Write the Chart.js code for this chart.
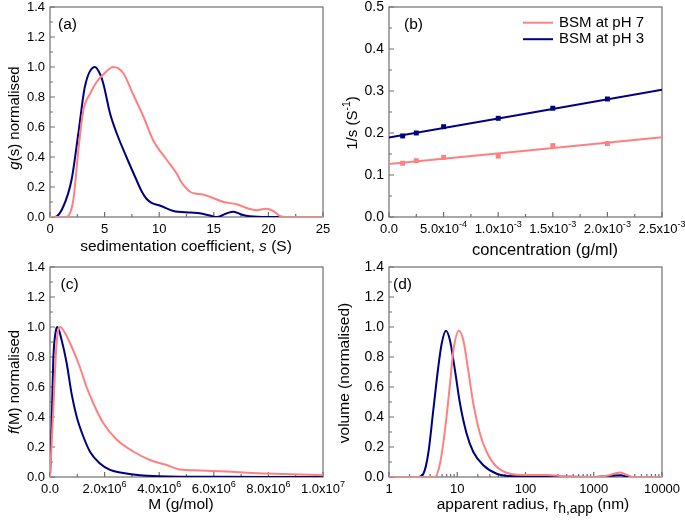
<!DOCTYPE html>
<html>
<head>
<meta charset="utf-8">
<script src="https://cdn.jsdelivr.net/npm/chart.js@4.4.0/dist/chart.umd.min.js"></script>
<style>
  html, body { margin: 0; padding: 0; background: #fff; }
  #wrap { position: relative; width: 685px; height: 521px; }
  #wrap canvas { position: absolute; left: 0; top: 0; }
</style>
</head>
<body>
<div id="wrap">
  <canvas id="chartA" width="685" height="521"></canvas>
  <canvas id="chartB" width="685" height="521"></canvas>
  <canvas id="chartC" width="685" height="521"></canvas>
  <canvas id="chartD" width="685" height="521"></canvas>
</div>
<script>
// ---------------------------------------------------------------
// data

// (a) g(s) distributions
const sA3 = [0, 0.46, 1.22, 1.98, 2.6, 3.2, 4.12, 4.6, 4.88, 5.5, 6.1, 7.0, 7.9, 8.4, 8.85, 9.3, 10.1, 11.3, 12.9, 13.7, 14.65, 15.3, 16.2, 16.8, 17.6, 18.3, 20, 25];
const gA3 = [0, 0, 0.07, 0.25, 0.56, 0.87, 1.0, 0.95, 0.89, 0.69, 0.56, 0.40, 0.25, 0.17, 0.12, 0.095, 0.075, 0.04, 0.03, 0.025, 0.01, 0.0, 0.025, 0.035, 0.015, 0.005, 0, 0];
const sA7 = [0, 1.37, 2.13, 2.6, 3.05, 3.66, 4.27, 4.88, 5.8, 6.7, 7.6, 8.55, 9.46, 10.7, 11.6, 12.0, 12.5, 12.9, 13.4, 14.0, 14.65, 15.9, 17.1, 18.0, 18.9, 19.8, 20.45, 21.1, 21.7, 25];
const gA7 = [0, 0, 0.11, 0.45, 0.71, 0.82, 0.9, 0.95, 1.0, 0.96, 0.82, 0.67, 0.51, 0.38, 0.29, 0.235, 0.19, 0.165, 0.155, 0.15, 0.135, 0.10, 0.085, 0.06, 0.045, 0.055, 0.04, 0.005, 0, 0];

// (b) 1/s vs concentration
const concB = [1.25e-4, 2.5e-4, 5e-4, 1e-3, 1.5e-3, 2e-3];
const invS3 = [0.193, 0.200, 0.215, 0.235, 0.259, 0.281];
const invS7 = [0.128, 0.134, 0.142, 0.145, 0.170, 0.175];
const fitX = [0, 2.5e-3];
const fit3 = [0.189, 0.303];
const fit7 = [0.126, 0.190];

// (c) f(M) distributions
const mC3 = [0, 0.06e6, 0.12e6, 0.22e6, 0.27e6, 0.43e6, 0.61e6, 0.79e6, 0.98e6, 1.22e6, 1.47e6, 1.83e6, 2.2e6, 2.68e6, 3.3e6, 4.0e6, 4.9e6, 6.0e6, 8.0e6, 10.0e6];
const fC3 = [0, 0.34, 0.78, 0.98, 1.0, 0.91, 0.76, 0.556, 0.40, 0.27, 0.167, 0.09, 0.047, 0.027, 0.012, 0.005, 0.002, 0.001, 0, 0];
const mC7 = [0, 0.12e6, 0.24e6, 0.37e6, 0.55e6, 0.79e6, 1.1e6, 1.34e6, 1.59e6, 1.95e6, 2.44e6, 3.05e6, 3.66e6, 4.27e6, 4.76e6, 5.5e6, 6.47e6, 7.45e6, 8.55e6, 10.0e6];
const fC7 = [0, 0.45, 0.89, 1.0, 0.96, 0.87, 0.73, 0.6, 0.49, 0.36, 0.25, 0.17, 0.113, 0.08, 0.05, 0.044, 0.037, 0.027, 0.02, 0.012];

// (d) volume vs apparent radius
const rD3 = [1, 2.7, 3.18, 3.77, 4.46, 5.28, 5.92, 6.84, 7.83, 9.27, 10.97, 13.7, 17.2, 24.1, 37.8, 66, 100, 300, 1000, 1800, 2500, 3200, 10000];
const vD3 = [0, 0, 0.02, 0.16, 0.447, 0.735, 0.89, 0.975, 0.91, 0.71, 0.49, 0.29, 0.167, 0.078, 0.022, 0.005, 0.004, 0.002, 0, 0.008, 0.012, 0, 0];
const rD7 = [1, 4.72, 5.59, 6.6, 7.83, 8.76, 10.6, 12.3, 14.5, 17.2, 21.5, 27, 37.8, 59.3, 104, 204, 400, 980, 1550, 2425, 3030, 3800, 10000];
const vD7 = [0, 0, 0.09, 0.31, 0.62, 0.84, 0.975, 0.91, 0.71, 0.49, 0.29, 0.167, 0.068, 0.022, 0.013, 0.013, 0.004, 0, 0.008, 0.03, 0.015, 0, 0];

const PINK = '#ff8080';
const NAVY = '#000080';
const FONT = '"Liberation Sans", Arial, sans-serif';

Chart.defaults.font.family = FONT;
Chart.defaults.color = '#000';

const pts = (xs, ys) => xs.map((x, i) => ({ x: x, y: ys[i] }));

// ---------------------------------------------------------------
// text helpers (italic / super / subscript pieces)

function partSize(p, size) {
  if (p[1] === 'sup') return size * 0.7;
  if (p[1] === 'sub') return size * 0.9;
  return size;
}
function setFont(ctx, p, size) {
  ctx.font = (p[1] === 'i' ? 'italic ' : '') + partSize(p, size) + 'px ' + FONT;
}
function richWidth(ctx, parts, size) {
  let w = 0;
  parts.forEach(p => { setFont(ctx, p, size); w += ctx.measureText(p[0]).width; });
  return w;
}
function drawRich(ctx, parts, x, y, size, rotate) {
  ctx.save();
  ctx.translate(x, y);
  if (rotate) ctx.rotate(-Math.PI / 2);
  ctx.textBaseline = 'middle';
  ctx.textAlign = 'left';
  ctx.fillStyle = '#000';
  let cx = -richWidth(ctx, parts, size) / 2;
  parts.forEach(p => {
    setFont(ctx, p, size);
    const dy = p[1] === 'sup' ? -size * 0.38 : (p[1] === 'sub' ? size * 0.25 : 0);
    ctx.fillText(p[0], cx, dy);
    cx += ctx.measureText(p[0]).width;
  });
  ctx.restore();
}
function sciParts(v) {
  if (Math.abs(v) < 1e-12) return [['0.0', '']];
  const e = Math.floor(Math.log10(v) + 1e-9);
  const m = v / Math.pow(10, e);
  return [[m.toFixed(1) + 'x10', ''], [String(e), 'sup']];
}

// ---------------------------------------------------------------
// frame, inward ticks, titles, legend

const panelPlugin = {
  id: 'panel',
  beforeDatasetsDraw(chart, args, o) {
    const ctx = chart.ctx, a = chart.chartArea;
    const xs = chart.scales.x, ys = chart.scales.y;
    ctx.save();
    ctx.strokeStyle = '#707070';
    ctx.lineWidth = 1.2;
    ctx.beginPath();
    const xTick = (v, len) => { const p = xs.getPixelForValue(v); ctx.moveTo(p, a.bottom); ctx.lineTo(p, a.bottom - len); };
    const yTick = (v, len) => { const p = ys.getPixelForValue(v); ctx.moveTo(a.left, p); ctx.lineTo(a.left + len, p); };

    if (o.logX) {
      const k0 = Math.round(Math.log10(xs.min)), k1 = Math.round(Math.log10(xs.max));
      for (let k = k0; k <= k1; k++) {
        xTick(Math.pow(10, k), 5);
        if (k < k1) for (let m = 2; m <= 9; m++) xTick(m * Math.pow(10, k), 3);
      }
    } else {
      for (let v = xs.min; v <= xs.max + o.minorX / 2; v += o.minorX) xTick(v, 3);
      xs.ticks.forEach(t => xTick(t.value, 5));
    }
    for (let v = ys.min; v <= ys.max + o.minorY / 2; v += o.minorY) yTick(v, 3);
    ys.ticks.forEach(t => yTick(t.value, 5));
    ctx.stroke();
    ctx.strokeRect(a.left, a.top, a.width, a.height);
    ctx.restore();
  },
  afterDraw(chart, args, o) {
    const ctx = chart.ctx, a = chart.chartArea, xs = chart.scales.x;
    if (o.sciX) {
      xs.ticks.forEach(t => {
        drawRich(ctx, sciParts(t.value), xs.getPixelForValue(t.value), a.bottom + 12.5, o.sciSize);
      });
    }
    drawRich(ctx, [[o.label, '']], o.labelPos[0], o.labelPos[1], 15.5);
    drawRich(ctx, o.xTitle.parts, o.xTitle.pos[0], o.xTitle.pos[1], o.xTitle.size);
    drawRich(ctx, o.yTitle.parts, o.yTitle.pos[0], o.yTitle.pos[1], o.yTitle.size, true);

    if (o.legend) {
      let row = 0;
      chart.data.datasets.forEach(ds => {
        if (!ds.inLegend) return;
        const y = o.legend.y + row * o.legend.gap;
        ctx.save();
        ctx.strokeStyle = ds.borderColor;
        ctx.lineWidth = 2;
        ctx.beginPath();
        ctx.moveTo(o.legend.x, y);
        ctx.lineTo(o.legend.x + 30, y);
        ctx.stroke();
        ctx.restore();
        ctx.save();
        ctx.font = '15px ' + FONT;
        ctx.fillStyle = '#000';
        ctx.textBaseline = 'middle';
        ctx.fillText(ds.label, o.legend.x + 36, y);
        ctx.restore();
        row++;
      });
    }
  }
};

// ---------------------------------------------------------------
// one panel = one chart, all canvases share the page coordinates

function curve(label, data, color) {
  return {
    label: label, data: data, showLine: true,
    borderColor: color, borderWidth: 2, pointRadius: 0,
    cubicInterpolationMode: 'monotone'
  };
}

function makePanel(id, area, xScale, yScale, datasets, panelOpts) {
  const fitW = s => { s.width = area.left; s.paddingTop = s.paddingBottom = 0; s.paddingLeft = s.paddingRight = 0; };
  const fitH = s => { s.height = 521 - area.bottom; s.paddingTop = s.paddingBottom = 0; s.paddingLeft = s.paddingRight = 0; };
  return new Chart(document.getElementById(id), {
    type: 'scatter',
    data: { datasets: datasets },
    options: {
      responsive: false,
      animation: false,
      events: [],
      layout: { padding: { left: 0, top: area.top, right: 685 - area.right, bottom: 0 } },
      plugins: { legend: { display: false }, tooltip: { enabled: false }, panel: panelOpts },
      scales: {
        x: Object.assign({ grid: { display: false, drawTicks: false }, border: { display: false }, afterFit: fitH }, xScale),
        y: Object.assign({ grid: { display: false, drawTicks: false }, border: { display: false }, afterFit: fitW }, yScale)
      }
    },
    plugins: [panelPlugin]
  });
}

const yNorm = size => ({
  min: 0, max: 1.4,
  ticks: { stepSize: 0.2, padding: 5, font: { size: size }, callback: v => v.toFixed(1) }
});

// (a)
makePanel('chartA', { left: 50, top: 7, right: 323, bottom: 217 },
  { type: 'linear', min: 0, max: 25, ticks: { stepSize: 5, padding: 5, font: { size: 13 } } },
  yNorm(13),
  [curve('BSM at pH 7', pts(sA7, gA7), PINK), curve('BSM at pH 3', pts(sA3, gA3), NAVY)],
  {
    label: '(a)', labelPos: [67.5, 25], minorX: 2.5, minorY: 0.1,
    xTitle: { parts: [['sedimentation coefficient, ', ''], ['s', 'i'], [' (S)', '']], pos: [186, 247], size: 15.5 },
    yTitle: { parts: [['g', 'i'], ['(s) normalised', '']], pos: [15, 118], size: 15 }
  });

// (b)
makePanel('chartB', { left: 389, top: 7, right: 662, bottom: 217 },
  { type: 'linear', min: 0, max: 0.0025, ticks: { stepSize: 0.0005, display: false } },
  { min: 0, max: 0.5, ticks: { stepSize: 0.1, padding: 5, font: { size: 14 }, callback: v => v.toFixed(1) } },
  [
    Object.assign(curve('BSM at pH 7', pts(fitX, fit7), PINK), { inLegend: true }),
    Object.assign(curve('BSM at pH 3', pts(fitX, fit3), NAVY), { inLegend: true }),
    { label: 'pH 7 data', data: pts(concB, invS7), pointStyle: 'rect', pointRadius: 3.5, backgroundColor: PINK, borderWidth: 0 },
    { label: 'pH 3 data', data: pts(concB, invS3), pointStyle: 'rect', pointRadius: 3.5, backgroundColor: NAVY, borderWidth: 0 }
  ],
  {
    label: '(b)', labelPos: [413.5, 25], minorX: 0.00025, minorY: 0.05, sciX: true, sciSize: 13,
    legend: { x: 523, y: 22.7, gap: 16.5 },
    xTitle: { parts: [['concentration (g/ml)', '']], pos: [545, 250], size: 16.5 },
    yTitle: { parts: [['1/s (S', ''], ['-1', 'sup'], [')', '']], pos: [353, 123], size: 15 }
  });

// (c)
makePanel('chartC', { left: 50, top: 267, right: 323, bottom: 477 },
  { type: 'linear', min: 0, max: 1e7, ticks: { stepSize: 2e6, display: false } },
  yNorm(13),
  [curve('BSM at pH 7', pts(mC7, fC7), PINK), curve('BSM at pH 3', pts(mC3, fC3), NAVY)],
  {
    label: '(c)', labelPos: [69.5, 285], minorX: 1e6, minorY: 0.1, sciX: true, sciSize: 13,
    xTitle: { parts: [['M (g/mol)', '']], pos: [181, 505], size: 15.5 },
    yTitle: { parts: [['f', 'i'], ['(M) normalised', '']], pos: [15, 382], size: 15 }
  });

// (d)
makePanel('chartD', { left: 389, top: 267, right: 662, bottom: 477 },
  {
    type: 'logarithmic', min: 1, max: 10000,
    ticks: {
      autoSkip: false, maxRotation: 0, padding: 5, font: { size: 13 },
      callback: v => (Math.abs(Math.log10(v) - Math.round(Math.log10(v))) < 1e-9 ? String(v) : '')
    }
  },
  yNorm(14),
  [curve('BSM at pH 7', pts(rD7, vD7), PINK), curve('BSM at pH 3', pts(rD3, vD3), NAVY)],
  {
    label: '(d)', labelPos: [402.5, 285], logX: true, minorY: 0.1,
    xTitle: { parts: [['apparent radius, r', ''], ['h,app', 'sub'], [' (nm)', '']], pos: [533, 505], size: 15.5 },
    yTitle: { parts: [['volume (normalised)', '']], pos: [345, 373], size: 15.5 }
  });
</script>
</body>
</html>
